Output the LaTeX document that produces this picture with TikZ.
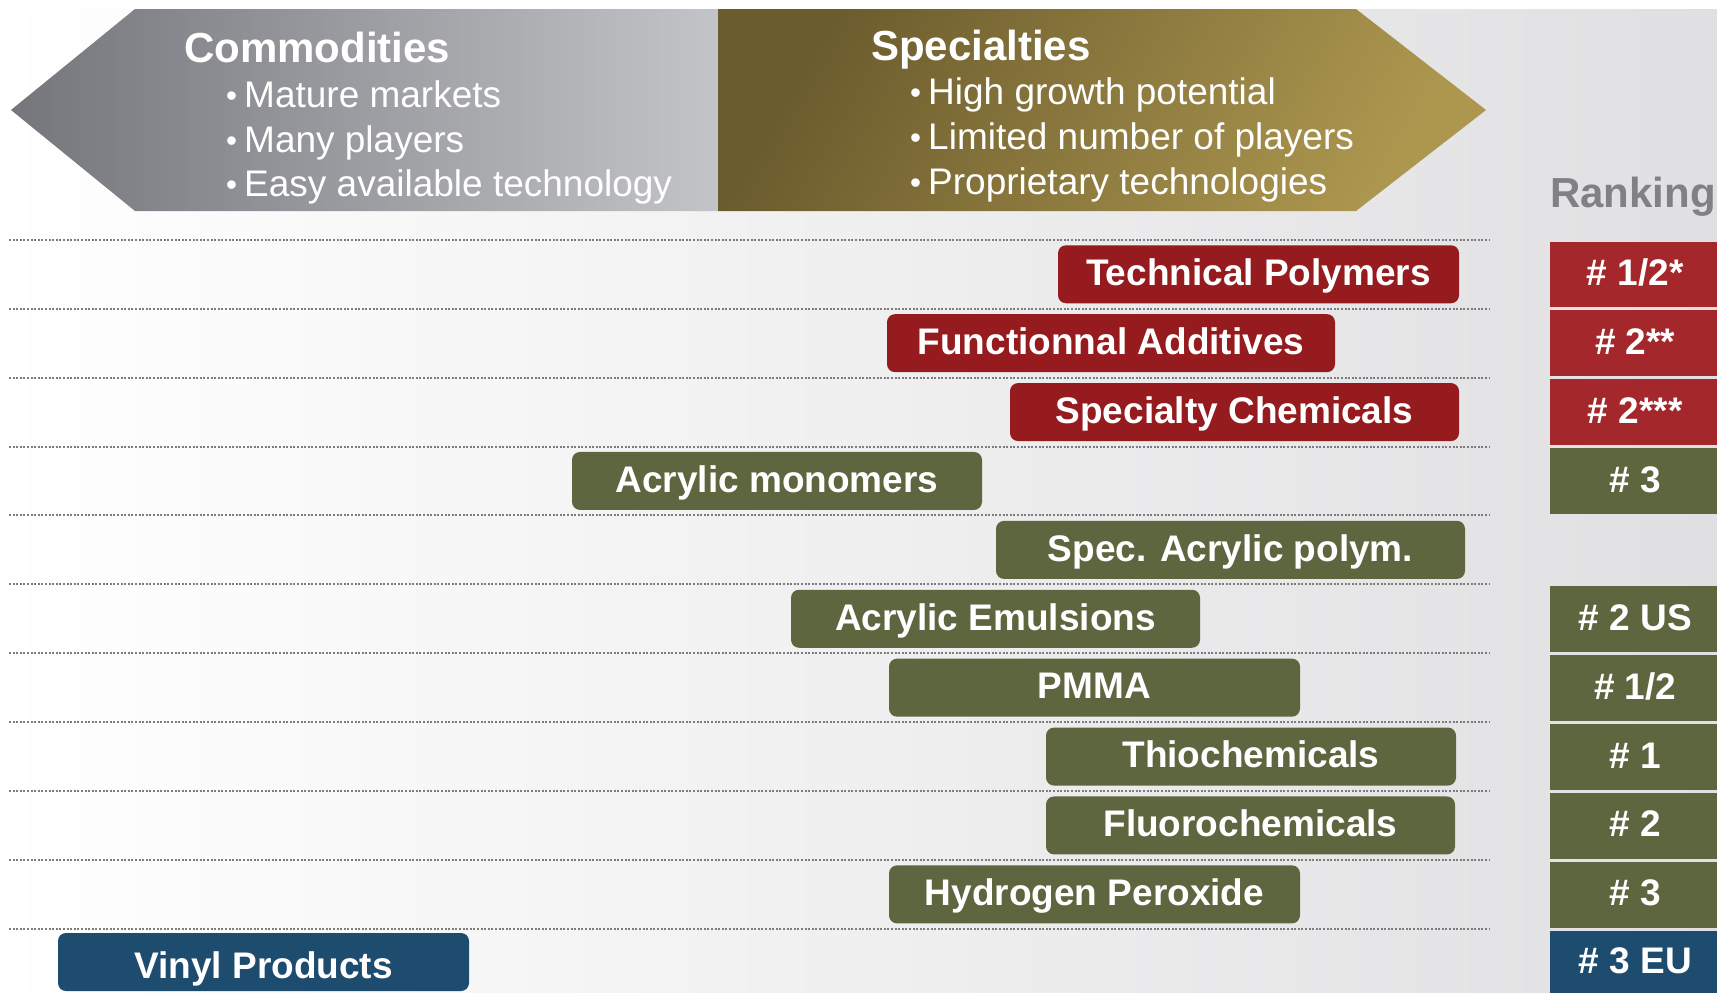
\documentclass[tikz,border=0pt]{standalone}
\usepackage{graphicx}
\usepackage{fontspec}
\setmainfont{Liberation Sans}
\definecolor{greyA}{HTML}{74767C}
\definecolor{greyB}{HTML}{C2C4C7}
\definecolor{goldA}{HTML}{6B5C2E}
\definecolor{goldB}{HTML}{AD974F}
\definecolor{bgR}{HTML}{E0E0E2}
\definecolor{redbox}{HTML}{961B1F}
\definecolor{redrank}{HTML}{A3272B}
\definecolor{greenbox}{HTML}{5E6640}
\definecolor{bluebox}{HTML}{1E4C6E}
\definecolor{dotline}{HTML}{7C7C7E}
\definecolor{rankgrey}{HTML}{808184}
\newcommand{\bul}{\raisebox{1pt}{\scalebox{0.85}{•}}\hspace{7pt}}
\begin{document}
\begin{tikzpicture}[x=1pt,y=-1pt,
  headtext/.style={inner sep=0pt, anchor=base west, text=white, font=\fontsize{42}{48}\selectfont\bfseries},
  bullettext/.style={inner sep=0pt, anchor=base west, text=white, font=\fontsize{37}{42}\selectfont},
  bizbox/.style={rounded corners=8pt, inner sep=0pt, minimum height=58pt, text=white,
    text height=26.5pt, text depth=4pt, font=\fontsize{37}{42}\selectfont\bfseries},
  redb/.style={bizbox, fill=redbox},
  greenb/.style={bizbox, fill=greenbox},
  blueb/.style={bizbox, fill=bluebox, text height=37.5pt},
  rankbox/.style={inner sep=0pt, minimum width=170pt, anchor=north west, text=white,
    text height=26.5pt, text depth=4pt, font=\fontsize{37}{42}\selectfont\bfseries},
  rowline/.style={dotline, line width=2pt, dash pattern=on 2pt off 1.6pt}
]
\useasboundingbox (0,0) rectangle (1717,993);
\fill[white] (0,0) rectangle (1717,993);
% page background
\shade[left color=white, right color=bgR] (0,9) rectangle (1717,993);

% banner arrows
\shade[left color=greyA, right color=greyB]
  (11,110) -- (135,9) -- (718,9) -- (718,211) -- (135,211) -- cycle;
\shade[left color=goldA, right color=goldB, shading angle=60]
  (718,9) -- (1356,9) -- (1486,110) -- (1356,211) -- (718,211) -- cycle;

% banner texts
\node[headtext] (comm) at (184,62) {Commodities};
\node[bullettext] (c1) at (226,107) {\bul Mature markets};
\node[bullettext] (c2) at (226,152) {\bul Many players};
\node[bullettext] (c3) at (226,196) {\bul Easy available technology};
\node[headtext] (spec) at (871,60) {Specialties};
\node[bullettext] (s1) at (910,104) {\bul High growth potential};
\node[bullettext] (s2) at (910,149) {\bul Limited number of players};
\node[bullettext] (s3) at (910,194) {\bul Proprietary technologies};

\node[inner sep=0pt, anchor=base west, text=rankgrey, font=\fontsize{42}{48}\selectfont\bfseries]
  (ranking) at (1550,207) {Ranking};

% dotted row separators
\foreach \i in {0,...,10}{
  \draw[rowline] (9,239.8+68.9*\i) -- (1489,239.8+68.9*\i);
}

% business boxes
\node[redb, minimum width=401pt] (tp) at (1258.5,274.25) {Technical Polymers};
\node[redb, minimum width=448pt] (fa) at (1111,343.15) {Functionnal Additives};
\node[redb, minimum width=449pt] (sc) at (1234.5,412.05) {Specialty Chemicals};
\node[greenb, minimum width=410pt] (am) at (777,480.95) {Acrylic monomers};
\node[greenb, minimum width=469pt] (sap) at (1230.5,549.85) {Spec. Acrylic polym.};
\node[greenb, minimum width=409pt] (ae) at (995.5,618.75) {Acrylic Emulsions};
\node[greenb, minimum width=411pt] (pmma) at (1094.5,687.65) {PMMA};
\node[greenb, minimum width=410pt] (thio) at (1251,756.55) {Thiochemicals};
\node[greenb, minimum width=409pt] (fluo) at (1250.5,825.45) {Fluorochemicals};
\node[greenb, minimum width=411pt] (hp) at (1094.5,894.35) {Hydrogen Peroxide};
\node[blueb, minimum width=411pt] (vin) at (263.5,962) {Vinyl Products};

% ranking column
\node[rankbox, fill=redrank, minimum height=65.9pt] (r1) at (1550,241.3) {\# 1/2*};
\node[rankbox, fill=redrank, minimum height=65.9pt] (r2) at (1550,310.2) {\# 2**};
\node[rankbox, fill=redrank, minimum height=65.9pt] (r3) at (1550,379.1) {\# 2***};
\node[rankbox, fill=greenbox, minimum height=65.9pt] (r4) at (1550,448.0) {\# 3};
\node[rankbox, fill=greenbox, minimum height=65.9pt] (r6) at (1550,585.8) {\# 2 US};
\node[rankbox, fill=greenbox, minimum height=65.9pt] (r7) at (1550,654.7) {\# 1/2};
\node[rankbox, fill=greenbox, minimum height=65.9pt] (r8) at (1550,723.6) {\# 1};
\node[rankbox, fill=greenbox, minimum height=65.9pt] (r9) at (1550,792.5) {\# 2};
\node[rankbox, fill=greenbox, minimum height=65.9pt] (r10) at (1550,861.4) {\# 3};
\node[rankbox, fill=bluebox, minimum height=64pt] (r11) at (1550,930.3) {\# 3 EU};
\end{tikzpicture}
\end{document}
